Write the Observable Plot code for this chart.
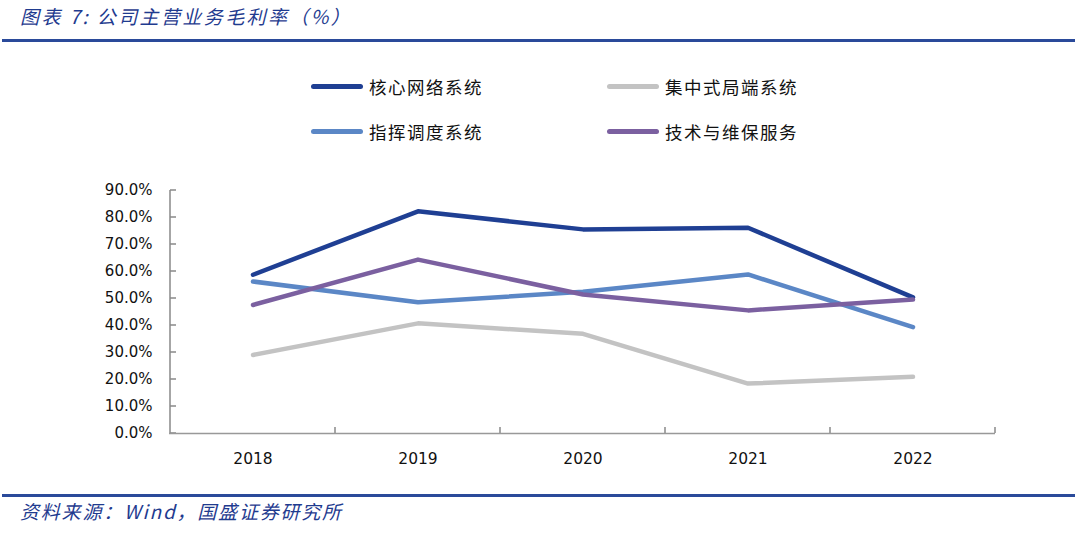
<!DOCTYPE html>
<html><head><meta charset="utf-8">
<script src="https://cdn.jsdelivr.net/npm/d3@7"></script>
<script src="https://cdn.jsdelivr.net/npm/@observablehq/plot@0.6"></script>
<style>
html,body{margin:0;padding:0;background:#fff;width:1080px;height:541px;overflow:hidden;position:relative;font-family:"Noto Sans CJK SC","Noto Sans",sans-serif;}
.title{position:absolute;left:20px;top:2px;font-size:19px;font-style:italic;color:#1f3b8f;letter-spacing:2.4px;}
.rule{position:absolute;left:2px;width:1073px;height:3px;background:#2a4a9a;}
.footer{position:absolute;left:20px;top:497px;font-size:19px;font-style:italic;color:#1f3b8f;letter-spacing:1.8px;}
.leg{position:absolute;font-size:17.5px;color:#111;display:flex;align-items:center;letter-spacing:1.5px;}
.leg span.sw{display:inline-block;width:52px;height:5px;border-radius:3px;margin-right:6px;}
#chart{position:absolute;left:0;top:170px;}
</style></head>
<body>
<div class="title">图表 7:&nbsp;公司主营业务毛利率（%）</div>
<div class="rule" style="top:39px"></div>
<div id="legend"></div>
<div id="chart"></div>
<div class="rule" style="top:494px"></div>
<div class="footer">资料来源：Wind，国盛证券研究所</div>
<script>
const years = ["2018","2019","2020","2021","2022"];
const seriesNames = ["核心网络系统","集中式局端系统","指挥调度系统","技术与维保服务"];
const coreNetwork = [58.8, 82.3, 75.6, 76.2, 50.4];
const centralOffice = [29.1, 40.8, 36.9, 18.5, 21.0];
const dispatch = [56.3, 48.6, 52.5, 58.9, 39.4];
const techService = [47.6, 64.4, 51.5, 45.6, 49.6];
const colors = ["#1f3f93","#c3c3c3","#5b87c6","#7b60a0"];
const yTicks = [0,10,20,30,40,50,60,70,80,90];

const valueArrays = [coreNetwork, centralOffice, dispatch, techService];
const data = [];
seriesNames.forEach((s,i)=>years.forEach((y,j)=>data.push({series:s, year:y, value:valueArrays[i][j]})));

// legend
const legPos = [[311,87],[607,87],[311,132],[607,132]];
const legend = document.getElementById("legend");
seriesNames.forEach((s,i)=>{
  const d = document.createElement("div");
  d.className="leg";
  d.style.left = legPos[i][0]+"px";
  d.style.top = (legPos[i][1]-13)+"px";
  d.innerHTML = `<span class="sw" style="background:${colors[i]}"></span>${s}`;
  legend.appendChild(d);
});

const chart = Plot.plot({
  width: 1080,
  height: 310,
  marginLeft: 169,
  marginRight: 85,
  marginTop: 20,
  marginBottom: 47,
  style: {fontFamily: "DejaVu Sans, sans-serif", fontSize: "15px", color: "#111", background: "#fff"},
  x: {type: "band", domain: years, padding: 0, label: null},
  y: {domain: [0, 90], ticks: yTicks, label: null, tickFormat: d => d.toFixed(1) + "%"},
  color: {domain: seriesNames, range: colors},
  marks: [
    Plot.axisY({ticks: yTicks, tickFormat: d => d.toFixed(1) + "%", tickSize: 0, tickPadding: 17, fontSize: 15, label: null, stroke: "none"}),
    Plot.ruleY([0], {stroke: "#999", strokeWidth: 1.5}),
    Plot.axisX({tickSize: 0, tickPadding: 19, fontSize: 15.5, label: null}),
    Plot.lineY(data, {x: "year", y: "value", z: "series", stroke: "series", strokeWidth: 4.5, strokeLinecap: "round", strokeLinejoin: "round"})
  ]
});
document.getElementById("chart").appendChild(chart);

// axis lines and ticks drawn from the chart's own scales
const xs = chart.scale("x");
const ys = chart.scale("y");
const svg = d3.select(chart);
const bw = xs.bandwidth;
const x0 = xs.apply(years[0]);
const bounds = years.map(y => xs.apply(y)).concat([xs.apply(years[4]) + bw]).slice(1);
const g = svg.insert("g", ":first-child").attr("stroke", "#888").attr("stroke-width", 1.5);
g.append("line").attr("x1", x0).attr("x2", x0).attr("y1", ys.apply(90)).attr("y2", ys.apply(0));
g.selectAll("line.yt").data(yTicks).join("line").attr("class","yt")
  .attr("x1", x0).attr("x2", x0 + 6)
  .attr("y1", d => ys.apply(d)).attr("y2", d => ys.apply(d));
g.selectAll("line.xt").data(bounds).join("line").attr("class","xt")
  .attr("x1", d=>d).attr("x2", d=>d)
  .attr("y1", ys.apply(0)).attr("y2", ys.apply(0) - 6);
</script>
</body></html>
